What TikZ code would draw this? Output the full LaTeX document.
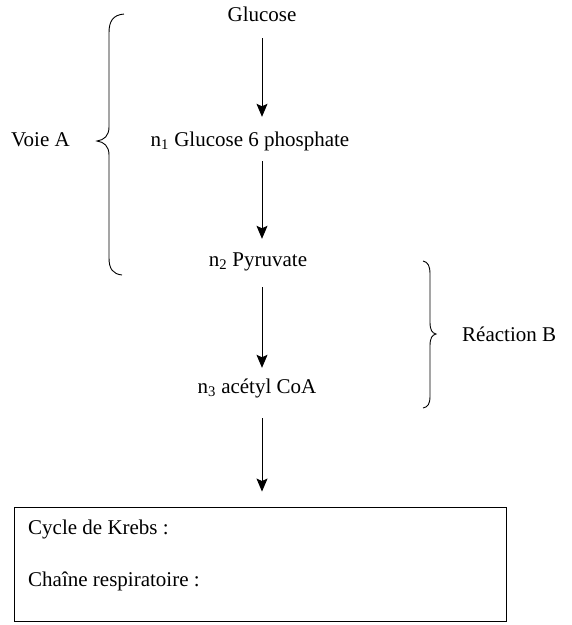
\documentclass[tikz,border=0pt]{standalone}
\usepackage{fontspec}
\setmainfont{Liberation Serif}
\usetikzlibrary{arrows.meta}
\begin{document}
\begin{tikzpicture}[x=1pt,y=-1pt,
  lbl/.style={inner sep=0pt, font=\fontsize{21}{24}\selectfont, text height=15pt, text depth=5pt},
  flow/.style={line width=1pt, -{Stealth[length=13pt,width=11pt,inset=2.5pt]}},
  brace/.style={line width=0.9pt},
  resbox/.style={draw, line width=0.9pt, inner sep=0pt, minimum width=492pt, minimum height=114pt}]
\useasboundingbox (0,0) rectangle (572,625);
\node[lbl] (glu) at (262,16) {Glucose};
\node[lbl] (g6p) at (250,141) {n\textsubscript{1} Glucose 6 phosphate};
\node[lbl] (pyr) at (258,261) {n\textsubscript{2} Pyruvate};
\node[lbl] (aca) at (257,388) {n\textsubscript{3} acétyl CoA};
\node[lbl, anchor=west] (voie) at (11,141) {Voie A};
\node[lbl, anchor=west] (reac) at (462,336) {Réaction B};
\node[resbox] (box) at (260,564) {};
\node[lbl, anchor=west] (krebs) at (28,529) {Cycle de Krebs :};
\node[lbl, anchor=west] (chaine) at (28,581) {Chaîne respiratoire :};
\draw[flow, shorten <=12pt, shorten >=14pt] (glu.south -| glu) -- (g6p.north -| glu);
\draw[flow, shorten <=10pt, shorten >=12pt] (g6p.south -| glu) -- (pyr.north -| glu);
\draw[flow, shorten <=16pt, shorten >=10pt] (pyr.south -| glu) -- (aca.north -| glu);
\draw[flow, shorten <=20pt, shorten >=15pt] (aca.south -| glu) -- (box.north -| glu);
% left brace (Voie A)
\draw[brace] (124,14) .. controls (113,15) and (109,21) .. (109,33) -- (109,127)
  .. controls (109,136) and (104,140) .. (97,141)
  .. controls (104,142) and (109,146) .. (109,155) -- (109,258)
  .. controls (109,269) and (113,274) .. (122,275);
% right brace (Reaction B)
\draw[brace] (423,261) .. controls (428,262) and (430,266) .. (430,274) -- (430,322)
  .. controls (430,330) and (432,333) .. (436,334)
  .. controls (432,335) and (430,338) .. (430,346) -- (430,396)
  .. controls (430,404) and (428,407) .. (423,408);
\end{tikzpicture}
\end{document}
